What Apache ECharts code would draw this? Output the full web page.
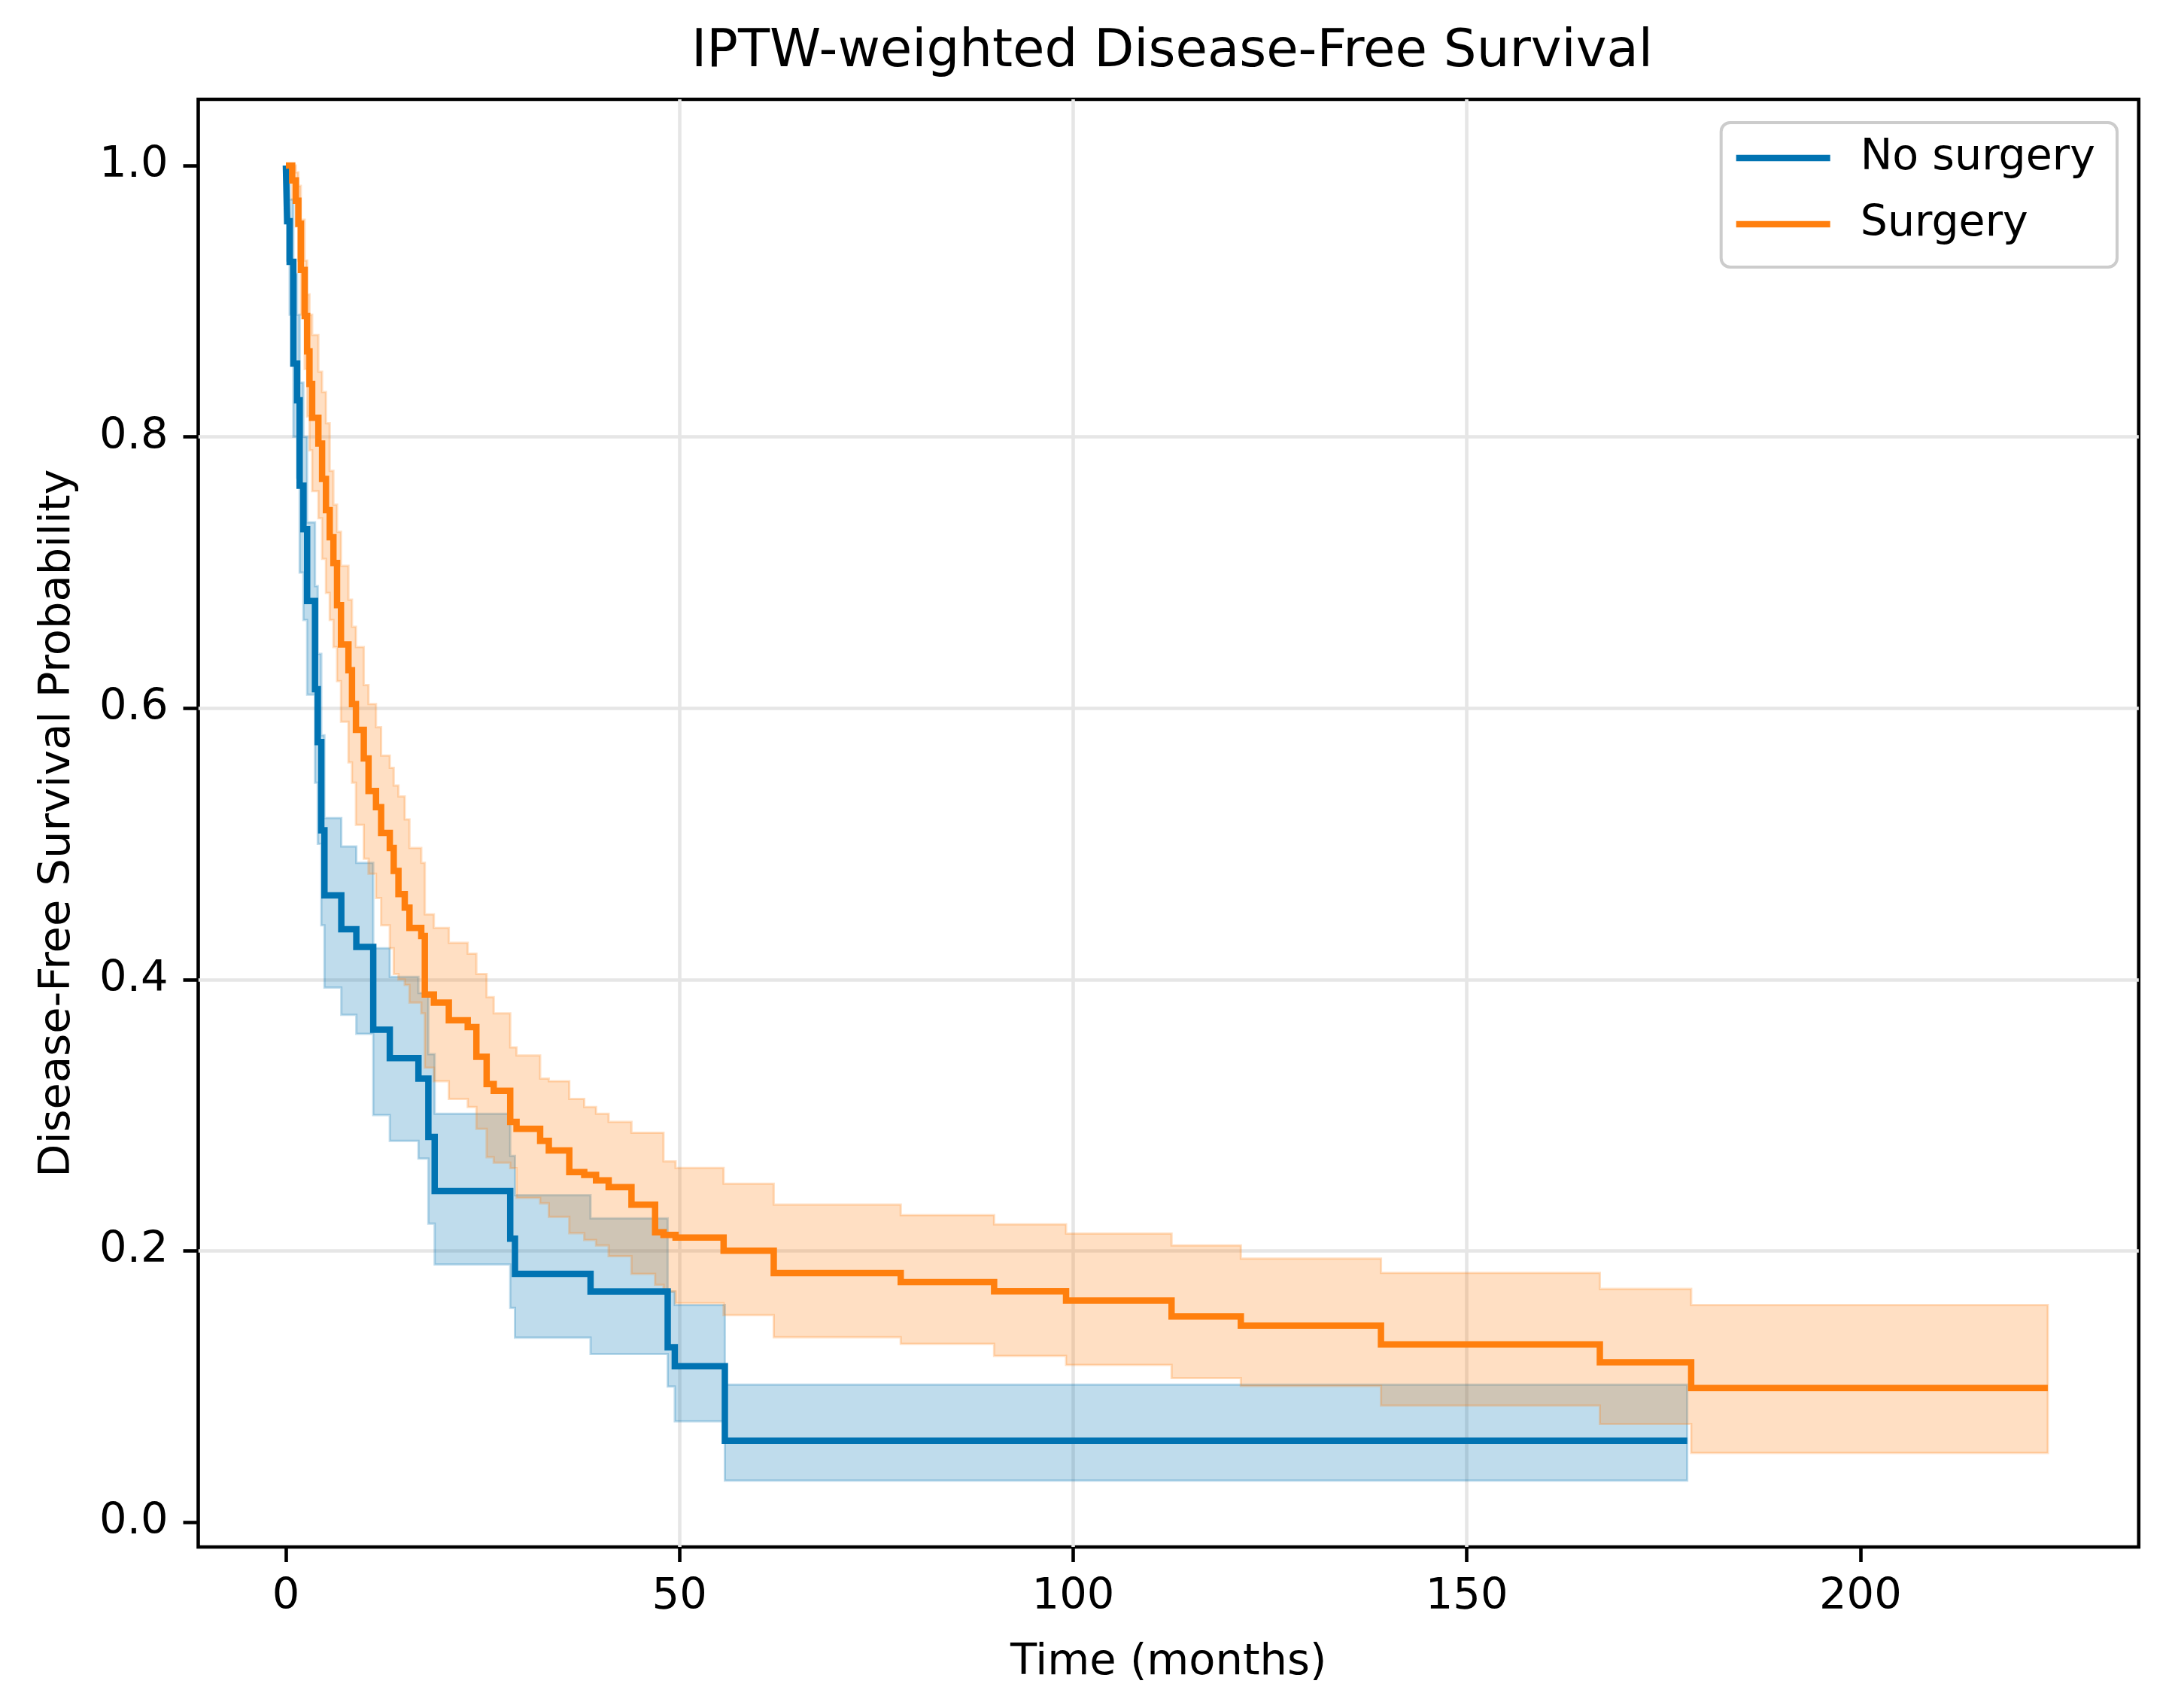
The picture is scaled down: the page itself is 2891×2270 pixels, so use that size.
<!DOCTYPE html>
<html>
<head>
<meta charset="utf-8">
<script src="https://cdn.jsdelivr.net/npm/echarts@6/dist/echarts.min.js"></script>
<style>
html,body{margin:0;padding:0;background:#fff;}
#chart{width:2891px;height:2270px;}
</style>
</head>
<body>
<div id="chart"></div>
<script>
// ---------------- data ----------------
const titleText = 'IPTW-weighted Disease-Free Survival';
const xName = 'Time (months)';
const yName = 'Disease-Free Survival Probability';
const groupNames = ['No surgery', 'Surgery'];
const xTicks = [0, 50, 100, 150, 200];
const yTicks = [0, 0.2, 0.4, 0.6, 0.8, 1.0];

// No surgery
const noSurgTime  = [0, 0.16, 0.48, 0.95, 1.43, 1.75, 2.23, 2.7, 3.7, 4.05, 4.5, 4.9, 7.04, 8.95, 11.1, 13.2, 16.84, 18.1, 18.9, 28.5, 29.1, 38.7, 48.5, 49.4, 55.76, 178];
const noSurgSurv  = [1.0, 0.959, 0.929, 0.854, 0.827, 0.764, 0.732, 0.679, 0.614, 0.575, 0.51, 0.462, 0.437, 0.424, 0.363, 0.342, 0.327, 0.284, 0.244, 0.209, 0.183, 0.170, 0.129, 0.115, 0.060, 0.060];
const noSurgLower = [1.0, 0.93, 0.89, 0.80, 0.77, 0.70, 0.665, 0.61, 0.545, 0.50, 0.44, 0.394, 0.374, 0.36, 0.30, 0.281, 0.268, 0.22, 0.19, 0.158, 0.136, 0.124, 0.10, 0.0743, 0.0307, 0.0307];
const noSurgUpper = [1.0, 1.0, 0.975, 0.92, 0.89, 0.84, 0.80, 0.737, 0.69, 0.64, 0.58, 0.519, 0.498, 0.486, 0.423, 0.402, 0.39, 0.345, 0.301, 0.27, 0.241, 0.224, 0.17, 0.160, 0.1014, 0.1014];

// Surgery
const surgTime  = [0, 0.8, 1.27, 1.59, 1.9, 2.39, 2.7, 3.0, 3.34, 4.13, 4.6, 5.09, 5.57, 6.04, 6.5, 7.0, 7.95, 8.4, 8.9, 9.9, 10.5, 11.45, 12.1, 13.2, 13.7, 14.3, 15.1, 15.7, 17.2, 17.65, 18.8, 20.7, 23.1, 24.2, 25.5, 26.4, 28.5, 29.3, 32.3, 33.4, 36.0, 37.9, 39.4, 41.0, 43.9, 46.9, 47.97, 49.5, 55.6, 61.97, 78.1, 89.96, 99.1, 112.5, 121.3, 139.1, 166.9, 178.5, 223.8];
const surgSurv  = [1.0, 0.989, 0.974, 0.957, 0.923, 0.889, 0.863, 0.839, 0.814, 0.795, 0.769, 0.746, 0.726, 0.707, 0.676, 0.647, 0.628, 0.603, 0.584, 0.563, 0.539, 0.527, 0.508, 0.497, 0.480, 0.463, 0.453, 0.438, 0.432, 0.389, 0.383, 0.370, 0.365, 0.343, 0.323, 0.318, 0.295, 0.290, 0.281, 0.274, 0.258, 0.256, 0.252, 0.247, 0.234, 0.2137, 0.2118, 0.2098, 0.2001, 0.1836, 0.1769, 0.1701, 0.1633, 0.1517, 0.1449, 0.1311, 0.1178, 0.0989, 0.0989];
const surgLower = [1.0, 0.975, 0.955, 0.93, 0.89, 0.85, 0.815, 0.79, 0.76, 0.74, 0.71, 0.685, 0.665, 0.645, 0.62, 0.59, 0.56, 0.545, 0.514, 0.489, 0.478, 0.46, 0.44, 0.423, 0.404, 0.40, 0.396, 0.383, 0.375, 0.335, 0.325, 0.312, 0.306, 0.29, 0.269, 0.265, 0.261, 0.239, 0.235, 0.225, 0.213, 0.208, 0.204, 0.196, 0.183, 0.175, 0.17, 0.1614, 0.1527, 0.1363, 0.1315, 0.1226, 0.1159, 0.1062, 0.1004, 0.0860, 0.0724, 0.0510, 0.0510];
const surgUpper = [1.0, 1.0, 0.995, 0.985, 0.96, 0.93, 0.905, 0.89, 0.875, 0.848, 0.833, 0.81, 0.775, 0.75, 0.73, 0.705, 0.68, 0.66, 0.645, 0.617, 0.603, 0.586, 0.565, 0.556, 0.543, 0.535, 0.518, 0.497, 0.486, 0.448, 0.438, 0.427, 0.419, 0.404, 0.387, 0.375, 0.35, 0.344, 0.327, 0.325, 0.312, 0.306, 0.301, 0.295, 0.287, 0.287, 0.266, 0.2611, 0.2495, 0.234, 0.2263, 0.2195, 0.2127, 0.2040, 0.1943, 0.1837, 0.172, 0.160, 0.160];

// ---------------- styles ----------------
const FONT = 'DejaVu Sans';
const BLUE = '#0173b2';
const ORANGE = '#ff7f0e';
const BLUE_BAND = 'rgba(1,115,178,0.25)';
const ORANGE_BAND = 'rgba(255,127,14,0.25)';

function zip(a, b) { return a.map((v, i) => [v, b[i]]); }

function bandSeries(name, times, lo, hi, color, z) {
  const data = times.map((t, i) => [t, lo[i], hi[i]]);
  return {
    type: 'custom',
    name: name,
    silent: true,
    z: z,
    data: data,
    encode: { x: 0, y: [1, 2] },
    renderItem: function (params, api) {
      if (params.dataIndex !== 0) return null;
      const up = [], dn = [];
      for (let i = 0; i < data.length; i++) {
        const t0 = data[i][0];
        const t1 = i + 1 < data.length ? data[i + 1][0] : data[i][0];
        up.push(api.coord([t0, data[i][2]]), api.coord([t1, data[i][2]]));
        dn.push(api.coord([t0, data[i][1]]), api.coord([t1, data[i][1]]));
      }
      const pts = up.concat(dn.reverse());
      return {
        type: 'polygon',
        shape: { points: pts },
        style: { fill: color, stroke: color, lineWidth: 3 }
      };
    }
  };
}

function lineSeries(name, times, surv, color, z) {
  return {
    type: 'line',
    name: name,
    data: zip(times, surv),
    step: 'end',
    symbol: 'none',
    z: z,
    lineStyle: { width: 8.5, color: color, cap: 'butt', join: 'miter' },
    itemStyle: { color: color },
    emphasis: { disabled: true },
    animation: false
  };
}

const chart = echarts.init(document.getElementById('chart'), null, { renderer: 'canvas' });

const option = {
  animation: false,
  backgroundColor: '#ffffff',
  title: {
    text: titleText,
    left: 1553,
    textAlign: 'center',
    top: 31,
    textStyle: { fontFamily: FONT, fontSize: 69, fontWeight: 'normal', color: '#000' }
  },
  legend: {
    data: groupNames,
    orient: 'vertical',
    right: 77,
    top: 163,
    icon: 'rect',
    itemWidth: 125,
    itemHeight: 8.5,
    itemGap: 24,
    padding: [15, 29, 25, 20],
    borderColor: '#cccccc',
    borderWidth: 4,
    borderRadius: 12,
    backgroundColor: 'rgba(255,255,255,0.8)',
    selectedMode: false,
    textStyle: { fontFamily: FONT, fontSize: 57, color: '#000', lineHeight: 64, padding: [0, 0, 0, 35] }
  },
  grid: {
    left: 263.5,
    top: 132,
    width: 2579.3,
    height: 1924,
    show: true,
    borderColor: '#000',
    borderWidth: 4.6,
    backgroundColor: 'transparent',
    containLabel: false
  },
  xAxis: {
    type: 'value',
    min: -11.13,
    max: 235.35,
    name: xName,
    nameLocation: 'middle',
    nameGap: 125,
    nameTextStyle: { fontFamily: FONT, fontSize: 57.5, color: '#000' },
    axisLine: { show: false, onZero: false },
    axisTick: { show: true, length: 20, lineStyle: { color: '#000', width: 4.6 }, customValues: xTicks },
    axisLabel: { show: true, margin: 38, fontFamily: FONT, fontSize: 57.5, color: '#000', customValues: xTicks,
                 formatter: v => String(Math.round(v)) },
    splitLine: { show: true, showMinLine: false, showMaxLine: false, lineStyle: { color: '#e6e6e6', width: 4.6 } }
  },
  yAxis: {
    type: 'value',
    min: -0.0183,
    max: 1.0488,
    name: yName,
    nameLocation: 'middle',
    nameGap: 157,
    nameRotate: 90,
    nameTextStyle: { fontFamily: FONT, fontSize: 57.5, color: '#000' },
    axisLine: { show: false, onZero: false },
    axisTick: { show: true, length: 20, lineStyle: { color: '#000', width: 4.6 }, customValues: yTicks },
    axisLabel: { show: true, margin: 40, fontFamily: FONT, fontSize: 57.5, color: '#000', customValues: yTicks,
                 formatter: v => Number(v).toFixed(1) },
    splitLine: { show: true, showMinLine: false, showMaxLine: false, lineStyle: { color: '#e6e6e6', width: 4.6 } }
  },
  series: [
    bandSeries('No surgery CI', noSurgTime, noSurgLower, noSurgUpper, BLUE_BAND, 1),
    bandSeries('Surgery CI', surgTime, surgLower, surgUpper, ORANGE_BAND, 2),
    lineSeries(groupNames[0], noSurgTime, noSurgSurv, BLUE, 3),
    lineSeries(groupNames[1], surgTime, surgSurv, ORANGE, 4)
  ]
};

chart.setOption(option);
</script>
</body>
</html>
